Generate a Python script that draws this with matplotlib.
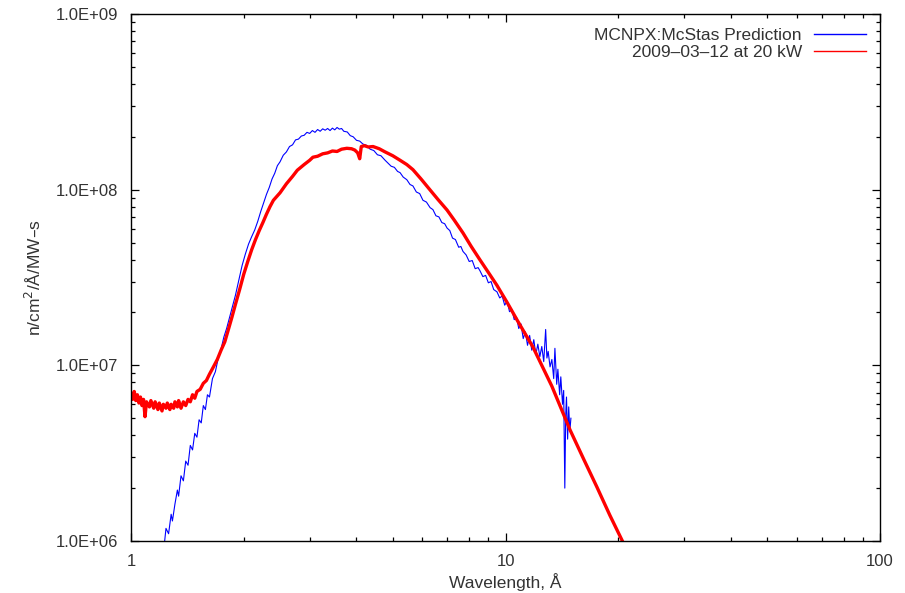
import matplotlib
matplotlib.use("Agg")
import matplotlib.pyplot as plt
from matplotlib.ticker import LogLocator, FixedLocator, FixedFormatter, NullFormatter

plt.rcParams["font.family"] = ["Liberation Sans", "DejaVu Sans"]

# MCNPX:McStas prediction (wavelength in Angstrom, flux)
blue_wl = [1.23, 1.24, 1.26, 1.28, 1.29, 1.31, 1.33, 1.34, 1.36, 1.38,
           1.40, 1.42, 1.44, 1.46, 1.48, 1.50, 1.52, 1.54, 1.56, 1.58,
           1.60, 1.62, 1.65, 1.68, 1.71, 1.74, 1.77, 1.80, 1.83, 1.86,
           1.90, 1.94, 1.98, 2.02, 2.06, 2.10, 2.14, 2.18, 2.22, 2.26,
           2.30, 2.34, 2.38, 2.42, 2.46, 2.50, 2.55, 2.60, 2.65, 2.70,
           2.75, 2.80, 2.85, 2.90, 2.95, 3.00, 3.05, 3.10, 3.15, 3.20,
           3.25, 3.30, 3.35, 3.40, 3.45, 3.50, 3.55, 3.60, 3.65, 3.70,
           3.78, 3.85, 3.92, 4.00, 4.08, 4.16, 4.25, 4.35, 4.45, 4.55,
           4.65, 4.77, 4.85, 4.95, 5.05, 5.15, 5.23, 5.33, 5.45, 5.56,
           5.66, 5.78, 5.90, 6.02, 6.15, 6.29, 6.40, 6.52, 6.64, 6.76,
           6.88, 6.98, 7.10, 7.22, 7.35, 7.50, 7.60, 7.70, 7.85, 8.00,
           8.15, 8.30, 8.45, 8.55, 8.70, 8.85, 9.00, 9.15, 9.30, 9.49,
           9.65, 9.80, 9.95, 10.10, 10.25, 10.40, 10.55, 10.70, 10.85, 11.00,
           11.15, 11.30, 11.45, 11.60, 11.75, 11.90, 12.05, 12.20, 12.35, 12.50,
           12.65, 12.80, 12.90, 13.00, 13.15, 13.30, 13.45, 13.55, 13.70, 13.80,
           13.95, 14.05, 14.20, 14.30, 14.40, 14.48, 14.55, 14.65, 14.75, 14.85,
           14.95]
blue_flux = [1.00e6, 1.18e6, 1.10e6, 1.42e6, 1.30e6, 1.62e6, 1.95e6, 1.80e6, 2.35e6, 2.20e6,
             2.85e6, 2.70e6, 3.50e6, 3.30e6, 4.10e6, 3.90e6, 4.90e6, 4.70e6, 5.90e6, 5.60e6,
             6.80e6, 6.60e6, 8.40e6, 9.20e6, 1.10e7, 1.24e7, 1.45e7, 1.62e7, 1.85e7, 2.10e7,
             2.50e7, 3.05e7, 3.70e7, 4.30e7, 4.90e7, 5.40e7, 5.90e7, 6.60e7, 7.50e7, 8.40e7,
             9.40e7, 1.03e8, 1.15e8, 1.24e8, 1.37e8, 1.44e8, 1.57e8, 1.64e8, 1.76e8, 1.80e8,
             1.92e8, 1.94e8, 2.02e8, 2.04e8, 2.12e8, 2.09e8, 2.17e8, 2.12e8, 2.20e8, 2.15e8,
             2.22e8, 2.18e8, 2.23e8, 2.17e8, 2.24e8, 2.19e8, 2.26e8, 2.21e8, 2.23e8, 2.15e8,
             2.13e8, 2.03e8, 2.00e8, 1.91e8, 1.89e8, 1.82e8, 1.79e8, 1.70e8, 1.67e8, 1.58e8,
             1.56e8, 1.47e8, 1.42e8, 1.36e8, 1.34e8, 1.27e8, 1.25e8, 1.18e8, 1.14e8, 1.07e8,
             1.05e8, 9.70e7, 9.50e7, 8.70e7, 8.50e7, 7.90e7, 7.70e7, 7.10e7, 7.00e7, 6.50e7,
             6.40e7, 6.05e7, 5.85e7, 5.30e7, 5.20e7, 4.70e7, 4.75e7, 4.45e7, 4.25e7, 3.90e7,
             3.95e7, 3.55e7, 3.60e7, 3.45e7, 3.20e7, 3.25e7, 2.95e7, 3.00e7, 2.70e7, 2.62e7,
             2.42e7, 2.48e7, 2.20e7, 2.32e7, 2.02e7, 2.08e7, 1.82e7, 1.88e7, 1.62e7, 1.72e7,
             1.42e7, 1.55e7, 1.30e7, 1.48e7, 1.22e7, 1.40e7, 1.15e7, 1.32e7, 1.12e7, 1.28e7,
             1.05e7, 1.60e7, 1.10e7, 1.20e7, 9.80e6, 1.08e7, 8.40e6, 1.25e7, 7.80e6, 9.50e6,
             6.80e6, 8.60e6, 6.00e6, 7.20e6, 2.00e6, 5.20e6, 6.60e6, 3.80e6, 5.80e6, 4.20e6,
             5.00e6]

# measurement 2009-03-12 at 20 kW
red_wl = [1.00, 1.01, 1.02, 1.03, 1.04, 1.05, 1.06, 1.07, 1.08, 1.09,
          1.10, 1.12, 1.13, 1.15, 1.16, 1.18, 1.19, 1.21, 1.22, 1.24,
          1.25, 1.27, 1.28, 1.30, 1.31, 1.33, 1.34, 1.36, 1.38, 1.40,
          1.42, 1.44, 1.46, 1.48, 1.50, 1.53, 1.56, 1.59, 1.62, 1.66,
          1.70, 1.74, 1.78, 1.82, 1.86, 1.90, 1.95, 2.00, 2.05, 2.10,
          2.15, 2.20, 2.25, 2.30, 2.35, 2.40, 2.50, 2.60, 2.70, 2.78,
          2.90, 3.00, 3.06, 3.15, 3.25, 3.35, 3.45, 3.55, 3.65, 3.77,
          3.88, 3.96, 4.03, 4.08, 4.12, 4.20, 4.30, 4.43, 4.60, 4.77,
          5.00, 5.23, 5.45, 5.66, 5.95, 6.29, 6.60, 6.98, 7.30, 7.70,
          8.10, 8.55, 9.00, 9.49, 10.10, 10.74, 11.84, 13.30, 14.87, 16.20,
          17.54, 19.00, 20.47, 21.50]
red_flux = [6.9e6, 6.4e6, 7.1e6, 6.3e6, 6.8e6, 6.1e6, 6.6e6, 5.9e6, 6.4e6, 5.1e6,
            6.2e6, 5.8e6, 6.3e6, 5.7e6, 6.2e6, 5.6e6, 6.1e6, 5.5e6, 6.0e6, 5.7e6,
            6.1e6, 5.6e6, 6.0e6, 5.7e6, 6.2e6, 5.8e6, 6.3e6, 5.7e6, 6.2e6, 5.9e6,
            6.4e6, 6.2e6, 6.8e6, 6.5e6, 7.1e6, 7.3e6, 7.9e6, 8.2e6, 8.9e6, 9.8e6,
            1.08e7, 1.22e7, 1.36e7, 1.60e7, 1.88e7, 2.22e7, 2.70e7, 3.30e7, 3.90e7, 4.55e7,
            5.20e7, 5.85e7, 6.50e7, 7.25e7, 8.00e7, 8.70e7, 9.60e7, 1.08e8, 1.19e8, 1.29e8,
            1.39e8, 1.47e8, 1.53e8, 1.55e8, 1.60e8, 1.62e8, 1.66e8, 1.65e8, 1.70e8, 1.72e8,
            1.71e8, 1.68e8, 1.62e8, 1.50e8, 1.76e8, 1.78e8, 1.75e8, 1.76e8, 1.71e8, 1.64e8,
            1.56e8, 1.47e8, 1.39e8, 1.30e8, 1.15e8, 9.96e7, 8.80e7, 7.66e7, 6.70e7, 5.67e7,
            4.75e7, 3.98e7, 3.38e7, 2.85e7, 2.28e7, 1.81e7, 1.27e7, 7.6e6, 4.29e6, 2.9e6,
            2.03e6, 1.40e6, 1.01e6, 0.80e6]

y_ticks = [1e6, 1e7, 1e8, 1e9]
y_tick_labels = ["1.0E+06", "1.0E+07", "1.0E+08", "1.0E+09"]
x_ticks = [1, 10, 100]
x_tick_labels = ["1", "10", "100"]

text_color = "#333333"

fig = plt.figure(figsize=(9.05, 5.93), dpi=100)
ax = fig.add_axes([131 / 905, 1 - 541 / 593, (880 - 131) / 905, (541 - 14) / 593])

ax.plot(blue_wl, blue_flux, color="#0000ff", lw=0.8, label="MCNPX:McStas Prediction")
ax.plot(red_wl, red_flux, color="#ff0000", lw=2.4, label="2009\u201303\u201312 at 20 kW")

ax.set_xscale("log")
ax.set_yscale("log")
ax.set_xlim(1, 100)
ax.set_ylim(1e6, 1e9)

ax.xaxis.set_major_locator(FixedLocator(x_ticks))
ax.xaxis.set_major_formatter(FixedFormatter(x_tick_labels))
ax.yaxis.set_major_locator(FixedLocator(y_ticks))
ax.yaxis.set_major_formatter(FixedFormatter(y_tick_labels))
ax.xaxis.set_minor_locator(LogLocator(base=10, subs=range(2, 10)))
ax.yaxis.set_minor_locator(LogLocator(base=10, subs=range(2, 10)))
ax.xaxis.set_minor_formatter(NullFormatter())
ax.yaxis.set_minor_formatter(NullFormatter())

ax.tick_params(which="both", direction="in", top=True, right=True,
               labelsize=12, labelcolor=text_color, width=0.9)
ax.tick_params(which="major", length=6, pad=9)
ax.tick_params(which="minor", length=3)
for s in ax.spines.values():
    s.set_linewidth(1.0)

ax.set_xlabel("Wavelength, \u00c5", fontsize=12.5, color=text_color, labelpad=3)
ax.set_ylabel("n/cm$^2$/\u00c5/MW\u2013s", fontsize=12.5, color=text_color, labelpad=9)

leg = ax.legend(loc="upper right", frameon=False, markerfirst=False, fontsize=12.5,
                handlelength=3.0, handletextpad=0.7, labelspacing=0.08,
                borderaxespad=0.4, labelcolor=text_color)
for h in leg.get_lines():
    h.set_linewidth(1.0)

fig.savefig("out.png", dpi=100)
